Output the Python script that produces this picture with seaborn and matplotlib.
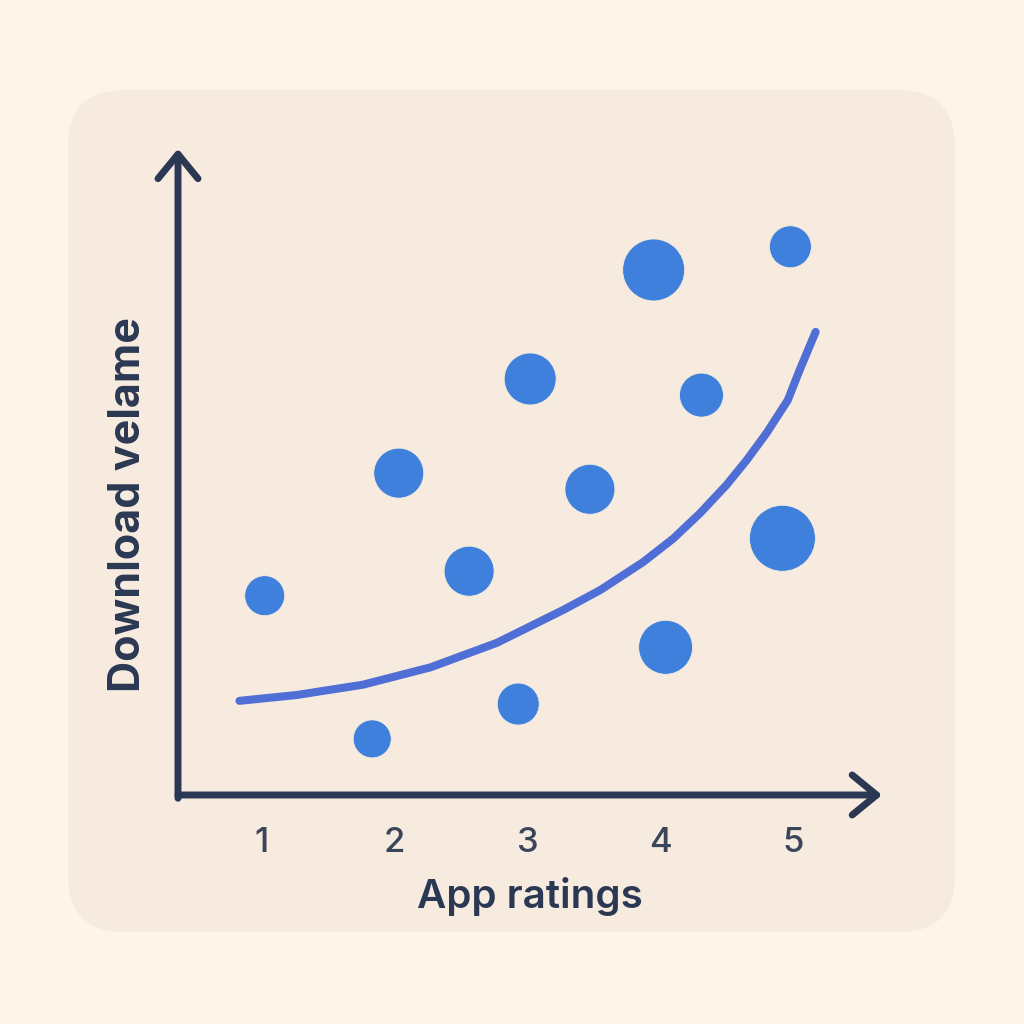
import seaborn as sns
import pandas as pd
import matplotlib.pyplot as plt
from matplotlib.patches import FancyBboxPatch

# app ratings vs download volume (bubble = popularity)
ratings = [1.02, 1.83, 2.03, 2.56, 2.93, 3.02, 3.47, 3.95, 4.04, 4.31, 4.98, 4.92]
downloads = [3.09, 0.87, 4.99, 3.47, 1.41, 6.45, 4.74, 8.14, 2.29, 6.20, 8.50, 3.98]
popularity = [400, 361, 625, 625, 441, 676, 625, 961, 729, 484, 441, 1089]

# trend curve
trend_x = [0.83, 1.26, 1.76, 2.27, 2.77, 3.27, 3.55, 3.87, 4.10, 4.30,
           4.50, 4.65, 4.80, 4.96, 5.05, 5.17]
trend_y = [1.46, 1.55, 1.71, 1.98, 2.36, 2.87, 3.18, 3.61, 3.98, 4.37,
           4.81, 5.19, 5.61, 6.12, 6.59, 7.18]

tick_labels = ["1", "2", "3", "4", "5"]

points = pd.DataFrame({"rating": ratings, "downloads": downloads, "pop": popularity})
trend = pd.DataFrame({"rating": trend_x, "downloads": trend_y})

sns.set_style("white")
plt.rcParams["font.family"] = ["Inter", "DejaVu Sans"]

navy = "#2b3853"
fig = plt.figure(figsize=(10.24, 10.24), dpi=100)
fig.patch.set_facecolor("#fdf5ea")

panel = FancyBboxPatch((68 / 1024, 1 - 932 / 1024), 887 / 1024, 842 / 1024,
                       boxstyle="round,pad=0,rounding_size=0.055",
                       transform=fig.transFigure, facecolor="#f6ebde",
                       edgecolor="none", zorder=-1)
fig.patches.append(panel)

ax = fig.add_axes([178 / 1024, 1 - 795 / 1024, 702 / 1024, 645 / 1024])
ax.set_facecolor("none")

sns.lineplot(data=trend, x="rating", y="downloads", sort=False, ax=ax,
             color="#4f6fd6", linewidth=5.8, solid_capstyle="round",
             solid_joinstyle="round")
lo, hi = min(popularity), max(popularity)
sns.scatterplot(data=points, x="rating", y="downloads", size="pop",
                sizes=(2.0736 * lo, 2.0736 * hi), color="#3e80dc",
                edgecolor="#f6ebde", linewidth=0.6, legend=False, ax=ax, zorder=3)

ax.set_xlim(0.367, 5.655)
ax.set_ylim(0, 10)
for s in ax.spines.values():
    s.set_visible(False)

# axes with arrow heads
arrow = dict(arrowstyle="->,head_length=0.55,head_width=0.45", color=navy,
             lw=5, capstyle="round", joinstyle="round", shrinkA=0, shrinkB=0,
             mutation_scale=32)
ax.annotate("", xy=(1.003, 0), xytext=(0, 0), xycoords="axes fraction",
            arrowprops=arrow, annotation_clip=False)
ax.annotate("", xy=(0, 1.002), xytext=(0, -0.005), xycoords="axes fraction",
            arrowprops=arrow, annotation_clip=False)

ax.set_xticks([1, 2, 3, 4, 5])
ax.set_xticklabels(tick_labels, fontsize=25, color="#3b4559", fontweight="medium")
ax.tick_params(axis="x", length=0, pad=23)
ax.set_yticks([])
ax.set_xlabel("")
ax.set_ylabel("")

fig.text(530 / 1024, 1 - 897 / 1024, "App ratings", ha="center", va="center",
         fontsize=29, color=navy, fontweight="semibold")
fig.text(128 / 1024, 1 - 505 / 1024, "Download velame", ha="center", va="center",
         rotation=90, fontsize=31, color=navy, fontweight="bold")

fig.savefig("out.png", dpi=100, facecolor=fig.get_facecolor())
